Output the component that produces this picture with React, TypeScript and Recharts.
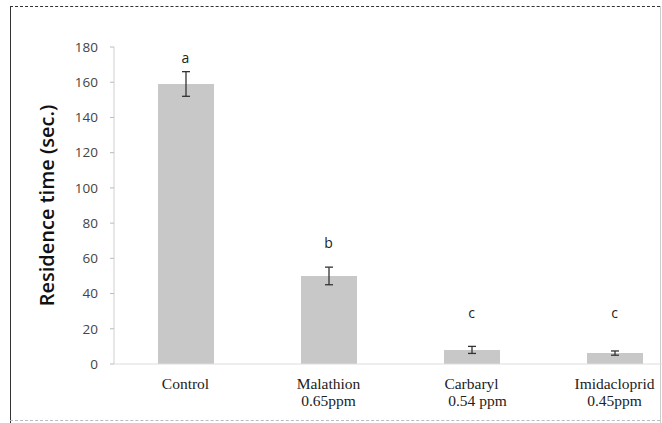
import React from 'react';
import {
  ComposedChart,
  Bar,
  Line,
  XAxis,
  YAxis,
  ErrorBar,
  LabelList,
  Label,
} from 'recharts';

const treatments = ['Control', 'Malathion', 'Carbaryl', 'Imidacloprid'];
const doses = ['', '0.65ppm', '  0.54 ppm', '0.45ppm'];
const residence = [159, 50, 8, 6.2];
const errors = [7, 5, 2, 1.2];
const letters = ['a', 'b', 'c', 'c'];
const letterLevel = [174, 69, 29, 29];
const yTicks = [0, 20, 40, 60, 80, 100, 120, 140, 160, 180];

const data = treatments.map((name, i) => ({
  name,
  dose: doses[i],
  value: residence[i],
  err: errors[i],
  letter: letters[i],
  letterAt: letterLevel[i],
}));

const CategoryTick = (props: any) => {
  const { x, y, payload, index } = props;
  const dose = doses[index] || '';
  return (
    <g transform={`translate(${x},${y})`}>
      <text
        textAnchor="middle"
        fontFamily="'Liberation Serif', 'Times New Roman', serif"
        fontSize={15.5}
        fill="#222"
      >
        <tspan x={0} dy={17}>{payload.value}</tspan>
        {dose && (
          <tspan x={dose.startsWith(' ') ? 6 : 0} dy={17}>
            {dose.trim()}
          </tspan>
        )}
      </text>
    </g>
  );
};

const LetterLabel = (props: any) => {
  const { x, y, value } = props;
  return (
    <text
      x={x}
      y={y}
      textAnchor="middle"
      dominantBaseline="central"
      fontFamily="'Open Sans', sans-serif"
      fontSize={14}
      fill="#222"
    >
      {value}
    </text>
  );
};

export default function App() {
  return (
    <div style={{ position: 'absolute', left: 0, top: 0, width: 662, height: 423, background: '#fff', overflow: 'hidden' }}>
      {/* scanned frame edges */}
      <div style={{ position: 'absolute', left: 10, top: 6, width: 660, borderTop: '1.5px dashed #333' }} />
      <div style={{ position: 'absolute', left: 10, top: 6, height: 420, borderLeft: '1.5px solid #333' }} />
      <div style={{ position: 'absolute', left: 660, top: 6, height: 420, borderLeft: '1px solid #ccc' }} />
      <div style={{ position: 'absolute', left: 10, top: 420, width: 660, borderTop: '1px dashed #bbb' }} />
      <ComposedChart
        width={662}
        height={423}
        data={data}
        margin={{ top: 47, right: -24, bottom: 0, left: 0 }}
      >
        <XAxis
          dataKey="name"
          axisLine={{ stroke: '#ddd' }}
          tickLine={false}
          tick={<CategoryTick />}
          interval={0}
          height={59}
        />
        <YAxis
          width={114}
          domain={[0, 180]}
          ticks={yTicks}
          axisLine={{ stroke: '#d0d0d0' }}
          tickLine={{ stroke: '#bbb' }}
          tickSize={4}
          tickMargin={12}
          tick={{ fontFamily: "'Open Sans', sans-serif", fontSize: 13.5, fill: '#444' }}
        >
          <Label
            value="Residence time  (sec.)"
            angle={-90}
            position="center"
            dx={-10}
            style={{ fontFamily: "'Open Sans', sans-serif", fontSize: 20, fontWeight: 600, fill: '#111', whiteSpace: 'pre' }}
          />
        </YAxis>
        <Bar dataKey="value" fill="#c8c8c8" barSize={56} isAnimationActive={false}>
          <ErrorBar dataKey="err" width={4} stroke="#333" strokeWidth={1.3} />
        </Bar>
        <Line
          dataKey="letterAt"
          stroke="none"
          dot={false}
          activeDot={false}
          isAnimationActive={false}
        >
          <LabelList dataKey="letter" content={<LetterLabel />} />
        </Line>
      </ComposedChart>
    </div>
  );
}
